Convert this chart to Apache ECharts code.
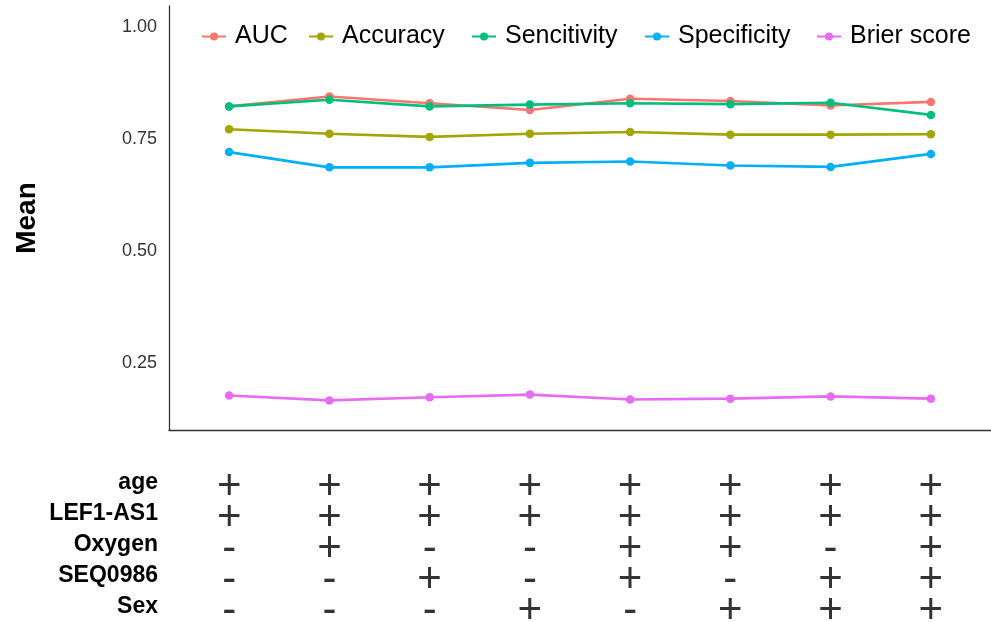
<!DOCTYPE html>
<html>
<head>
<meta charset="utf-8">
<script src="https://cdn.jsdelivr.net/npm/echarts@6/dist/echarts.min.js"></script>
<style>
  html, body { margin: 0; padding: 0; background: #fff; }
  #chart { width: 991px; height: 622px; }
</style>
</head>
<body>
<div id="chart"></div>
<script>
// Model index (1..8) along the x axis
const models = [1, 2, 3, 4, 5, 6, 7, 8];

// Mean performance per model
const auc         = [0.822, 0.844, 0.829, 0.814, 0.839, 0.834, 0.824, 0.832];
const accuracy    = [0.771, 0.761, 0.754, 0.761, 0.765, 0.759, 0.759, 0.760];
const sensitivity = [0.822, 0.837, 0.822, 0.826, 0.829, 0.827, 0.830, 0.803];
const specificity = [0.720, 0.686, 0.686, 0.696, 0.699, 0.690, 0.687, 0.716];
const brier       = [0.177, 0.166, 0.173, 0.179, 0.168, 0.170, 0.175, 0.170];

const seriesNames = ['AUC', 'Accuracy', 'Sencitivity', 'Specificity', 'Brier score'];
const seriesColors = ['#F8766D', '#A3A500', '#00BF7D', '#00B0F6', '#E76BF3'];
const seriesValues = [auc, accuracy, sensitivity, specificity, brier];

// Y tick labels
const yTicks = [0.25, 0.50, 0.75, 1.00];

// Variable inclusion table (rows = predictors, columns = models)
const predictorNames = ['age', 'LEF1-AS1', 'Oxygen', 'SEQ0986', 'Sex'];
const inAge     = ['+', '+', '+', '+', '+', '+', '+', '+'];
const inLEF1AS1 = ['+', '+', '+', '+', '+', '+', '+', '+'];
const inOxygen  = ['-', '+', '-', '-', '+', '+', '-', '+'];
const inSEQ0986 = ['-', '-', '+', '-', '+', '-', '+', '+'];
const inSex     = ['-', '-', '-', '+', '-', '+', '+', '+'];
const inclusion = [inAge, inLEF1AS1, inOxygen, inSEQ0986, inSex];

const FONT = 'Liberation Sans';

const lineSeries = seriesNames.map((name, i) => ({
  name: name,
  type: 'line',
  xAxisIndex: 0,
  yAxisIndex: 0,
  data: models.map((m, j) => [m, seriesValues[i][j]]),
  symbol: 'circle',
  symbolSize: 8.5,
  showSymbol: true,
  color: seriesColors[i],
  lineStyle: { width: 2.6, color: seriesColors[i] },
  itemStyle: { color: seriesColors[i] },
  emphasis: { disabled: true },
  z: 2 + i
}));

const tableData = [];
predictorNames.forEach((row, r) => {
  models.forEach((m, c) => {
    tableData.push([m, r, inclusion[r][c]]);
  });
});

const tableSeries = {
  type: 'scatter',
  xAxisIndex: 1,
  yAxisIndex: 1,
  data: tableData,
  symbolSize: 2,
  itemStyle: { color: 'rgba(0,0,0,0)' },
  silent: true,
  label: {
    show: true,
    position: 'inside',
    offset: [0, 4],
    formatter: p => p.value[2],
    fontFamily: FONT,
    fontSize: 42,
    color: '#000'
  }
};

// One legend block per series so each entry sits at its own spot
const legendLefts = [196, 303, 466, 639, 811];
const legends = seriesNames.map((name, i) => ({
  data: [name],
  left: legendLefts[i],
  top: 19,
  itemWidth: 24,
  itemHeight: 10,
  selectedMode: false,
  textStyle: {
    fontFamily: FONT,
    fontSize: 25,
    color: '#000',
    padding: [0, 0, 0, 4]
  }
}));

const option = {
  backgroundColor: '#fff',
  animation: false,
  legend: legends,
  grid: [
    { left: 169, top: 6, width: 824, height: 424 },
    { left: 169, top: 483, width: 824, height: 124 }
  ],
  xAxis: [
    {
      gridIndex: 0,
      type: 'value',
      min: 0.4,
      max: 8.6,
      axisLine: { show: true, lineStyle: { color: '#333', width: 1.3 } },
      axisTick: { show: false },
      axisLabel: { show: false },
      splitLine: { show: false }
    },
    {
      gridIndex: 1,
      type: 'value',
      min: 0.4,
      max: 8.6,
      axisLine: { show: false },
      axisTick: { show: false },
      axisLabel: { show: false },
      splitLine: { show: false }
    }
  ],
  yAxis: [
    {
      gridIndex: 0,
      type: 'value',
      min: 0.1,
      max: 1.046,
      name: 'Mean',
      nameLocation: 'middle',
      nameGap: 128,
      nameRotate: 90,
      nameTextStyle: { fontFamily: FONT, fontSize: 28, fontWeight: 'bold', color: '#000' },
      axisLine: { show: true, lineStyle: { color: '#333', width: 1.3 } },
      axisTick: { show: false },
      splitLine: { show: false },
      axisLabel: {
        customValues: yTicks,
        formatter: v => v.toFixed(2),
        fontFamily: FONT,
        fontSize: 18,
        color: '#333',
        margin: 12
      }
    },
    {
      gridIndex: 1,
      type: 'category',
      data: predictorNames,
      inverse: true,
      boundaryGap: false,
      axisLine: { show: false },
      axisTick: { show: false },
      splitLine: { show: false },
      axisLabel: {
        fontFamily: FONT,
        fontSize: 23,
        fontWeight: 'bold',
        color: '#000',
        margin: 11
      }
    }
  ],
  series: lineSeries.concat([tableSeries])
};

const chart = echarts.init(document.getElementById('chart'), null, { renderer: 'canvas' });
chart.setOption(option);
</script>
</body>
</html>
